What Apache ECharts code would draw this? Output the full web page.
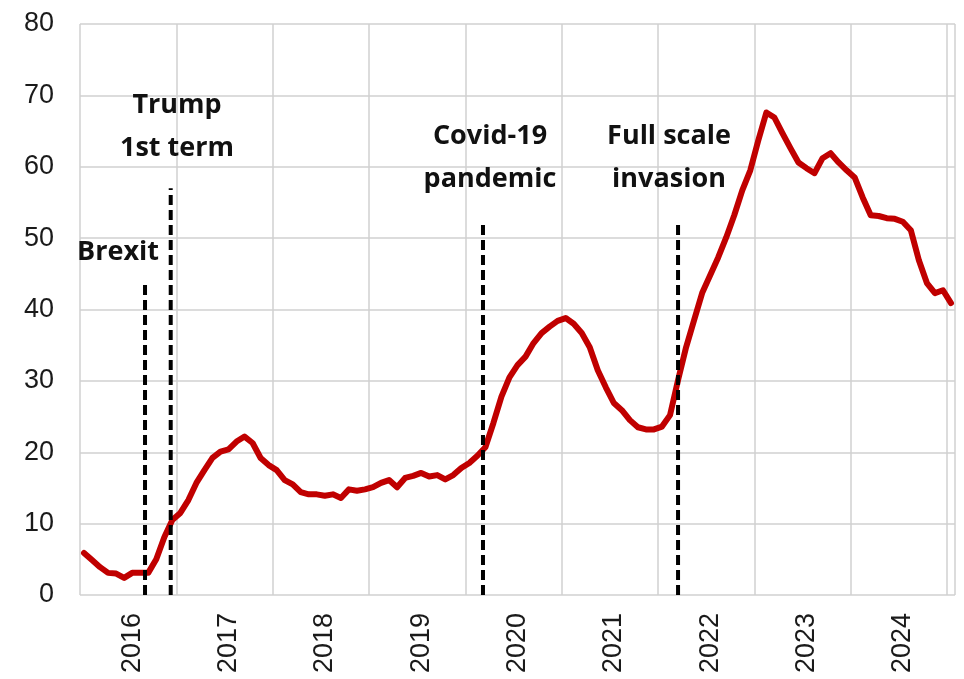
<!DOCTYPE html>
<html lang="en">
<head>
    <meta charset="UTF-8">
    <title>Line chart with events</title>
    <script src="https://cdn.jsdelivr.net/npm/echarts@6/dist/echarts.min.js"></script>
    <style>
        html, body { margin: 0; padding: 0; background: #fff; }
        #chart { width: 964px; height: 679px; }
    </style>
</head>
<body>
    <div id="chart"></div>
    <script>
        // monthly series, Jan 2016 .. Jan 2025
        var years = ['2016', '2017', '2018', '2019', '2020', '2021', '2022', '2023', '2024', '2025'];
        var values = [
            5.9, 4.9, 3.9, 3.1, 3.0, 2.4, 3.1, 3.1, 3.1, 5.0, 8.1, 10.5,      // 2016
            11.5, 13.3, 15.7, 17.5, 19.2, 20.1, 20.4, 21.5, 22.2, 21.3, 19.2, 18.2, // 2017
            17.5, 16.1, 15.5, 14.4, 14.1, 14.1, 13.9, 14.1, 13.6, 14.8, 14.6, 14.8, // 2018
            15.1, 15.7, 16.1, 15.1, 16.4, 16.7, 17.1, 16.6, 16.8, 16.2, 16.8, 17.8, // 2019
            18.5, 19.5, 20.7, 24.1, 27.8, 30.5, 32.2, 33.4, 35.3, 36.7, 37.6, 38.4, // 2020
            38.8, 38.0, 36.7, 34.7, 31.5, 29.1, 26.9, 25.9, 24.5, 23.5, 23.2, 23.2, // 2021
            23.6, 25.2, 30.1, 34.7, 38.5, 42.3, 44.8, 47.3, 50.1, 53.2, 56.7, 59.5, // 2022
            63.7, 67.6, 66.9, 64.7, 62.6, 60.6, 59.8, 59.1, 61.2, 61.9, 60.6, 59.5, // 2023
            58.5, 55.7, 53.2, 53.1, 52.8, 52.7, 52.3, 51.1, 46.9, 43.7, 42.3, 42.7, // 2024
            40.9                                                              // 2025
        ];
        var yTicks = [0, 10, 20, 30, 40, 50, 60, 70, 80];

        // events: position in months from Jan 2016, height of the dashed line
        var eventNames = ['Brexit', 'Trump\n1st term', 'Covid-19\npandemic', 'Full scale\ninvasion'];
        var eventAt = [8.1, 11.3, 50.2, 74.5];
        var eventTop = [43.6, 57.0, 52.2, 52.2];

        var months = [];
        for (var i = 0; i < values.length; i++) {
            var m = i % 12 + 1;
            months.push(years[Math.floor(i / 12)] + '-' + (m < 10 ? '0' + m : m));
        }

        // top-centre of each event caption (pixels)
        var captionPos = [[118, 231], [177, 84], [490, 115], [669, 115]];

        var eventSeries = eventNames.map(function (name, k) {
            return {
                name: name,
                type: 'line',
                xAxisIndex: 1,
                symbol: 'none',
                silent: true,
                z: 5,
                lineStyle: { color: '#000', width: 4, type: [10, 5] },
                data: [[eventAt[k], 0], [eventAt[k], eventTop[k]]]
            };
        });

        var chart = echarts.init(document.getElementById('chart'));
        var option = {
            animation: false,
            grid: { left: 80, right: 9, top: 24, bottom: 84 },
            xAxis: [{
                type: 'category',
                data: months,
                boundaryGap: true,
                axisLine: { show: false },
                axisTick: { show: false },
                axisLabel: {
                    interval: function (idx) { return idx % 12 === 6; },
                    formatter: function (v) { return v.slice(0, 4); },
                    rotate: 90,
                    margin: 18,
                    fontFamily: 'Liberation Sans',
                    fontSize: 27,
                    color: '#1a1a1a'
                },
                splitLine: {
                    show: true,
                    interval: function (idx) { return idx % 12 === 0; },
                    lineStyle: { color: '#d0d0d0', width: 1.5 }
                }
            }, {
                type: 'value',
                min: 0,
                max: values.length,
                show: false
            }],
            yAxis: {
                type: 'value',
                min: yTicks[0],
                max: yTicks[yTicks.length - 1],
                interval: 10,
                axisLine: { show: false },
                axisTick: { show: false },
                axisLabel: {
                    margin: 26,
                    fontFamily: 'Liberation Sans',
                    fontSize: 27,
                    color: '#1a1a1a'
                },
                splitLine: { lineStyle: { color: '#d0d0d0', width: 1.5 } }
            },
            series: [{
                name: 'value',
                type: 'line',
                data: values,
                symbol: 'none',
                z: 3,
                lineStyle: { color: '#c00000', width: 6, join: 'round', cap: 'round' }
            }].concat(eventSeries),
            graphic: eventNames.map(function (name, k) {
                return {
                    type: 'text',
                    x: captionPos[k][0],
                    y: captionPos[k][1],
                    z: 10,
                    style: {
                        text: name,
                        fontFamily: 'Open Sans',
                        fontWeight: 'bold',
                        fontSize: 27,
                        lineHeight: 43,
                        fill: '#111',
                        align: 'center',
                        verticalAlign: 'top'
                    }
                };
            })
        };
        chart.setOption(option);
    </script>
</body>
</html>
